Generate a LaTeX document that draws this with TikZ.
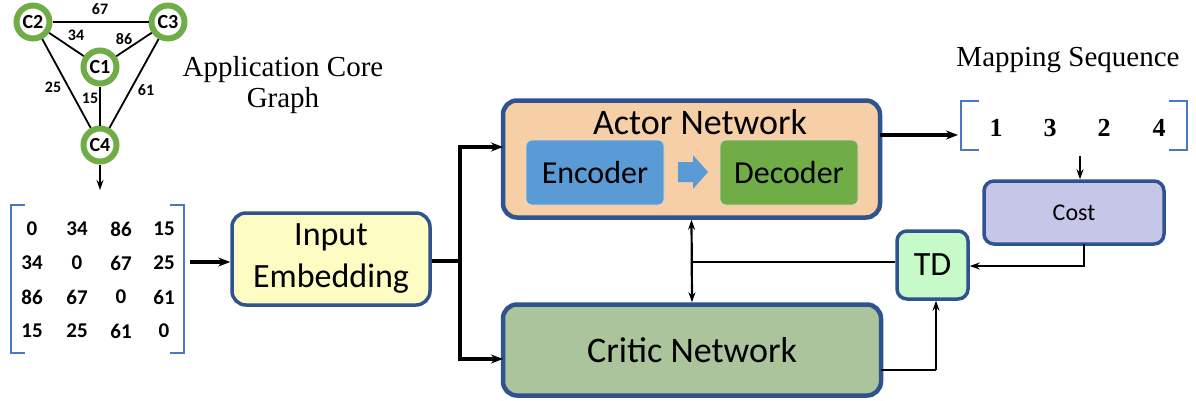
\documentclass[tikz,border=0pt]{standalone}
\usepackage{fontspec}
\setmainfont{Carlito}
\newfontfamily\timesfont{Liberation Serif}
\usetikzlibrary{arrows.meta}

\definecolor{ringgreen}{HTML}{70AD47}
\definecolor{boxblue}{HTML}{2F5290}
\definecolor{brackblue}{HTML}{4A78C8}
\definecolor{inputfill}{HTML}{FDFDC3}
\definecolor{actorfill}{HTML}{F6CFA6}
\definecolor{encfill}{HTML}{5B9BD5}
\definecolor{decfill}{HTML}{70AD47}
\definecolor{criticfill}{HTML}{ABC49C}
\definecolor{costfill}{HTML}{C6C6E8}
\definecolor{tdfill}{HTML}{C6FAC8}

\begin{document}
\begin{tikzpicture}[x=1pt,y=-1pt,
  core/.style={circle, draw=ringgreen, line width=6pt, fill=white,
    minimum size=33pt, inner sep=0pt,
    font=\bfseries\fontsize{20}{21}\selectfont},
  wlabel/.style={font=\bfseries\fontsize{16}{17}\selectfont, inner sep=0pt},
  gedge/.style={line width=1.8pt},
  cell/.style={font=\bfseries\fontsize{21}{23}\selectfont, inner sep=0pt},
  seqnum/.style={font=\timesfont\bfseries\fontsize{26}{28}\selectfont, inner sep=0pt},
  caption/.style={font=\timesfont\fontsize{29}{34}\selectfont, align=center, inner sep=0pt},
  bracket/.style={draw=brackblue, line width=2.6pt},
  block/.style={draw=boxblue, rounded corners=14pt, inner sep=0pt},
  inner/.style={draw=white!85!black, line width=0.8pt, rounded corners=6pt, inner sep=0pt},
  arr/.style={line width=3.2pt, -{Stealth[length=12pt,width=9pt]}},
  thinarr/.style={line width=2.2pt, -{Stealth[length=10pt,width=7pt]}},
  dblarr/.style={line width=2.2pt, {Stealth[length=10pt,width=7pt]}-{Stealth[length=10pt,width=7pt]}},
  plain/.style={line width=2.2pt}
]
\useasboundingbox (0,0) rectangle (1196,400);

% ---------- application core graph ----------
\node[core] (c2) at (33,22) {C2};
\node[core] (c3) at (168,22) {C3};
\node[core] (c1) at (100,67) {C1};
\node[core] (c4) at (100,145) {C4};
\draw[gedge] (c2) -- (c3);
\draw[gedge] (c2) -- (c1);
\draw[gedge] (c3) -- (c1);
\draw[gedge] (c2) -- (c4);
\draw[gedge] (c3) -- (c4);
\draw[gedge] (c1) -- (c4);
\node[wlabel] (w23) at (100,9) {67};
\node[wlabel] (w12) at (76,35) {34};
\node[wlabel] (w13) at (124,39) {86};
\node[wlabel] (w24) at (53,87) {25};
\node[wlabel] (w14) at (90,98) {15};
\node[wlabel] (w34) at (146,90) {61};
\node[caption] (gcap) at (283,85) {Application Core\\[-3pt]Graph};

% ---------- adjacency matrix ----------
\coordinate (matin) at (100,190);
\draw[thinarr] (c4.south) -- (matin);
\draw[bracket] (25,205) -- (11,205) -- (11,353) -- (25,353);
\draw[bracket] (170,205) -- (184,205) -- (184,353) -- (170,353);
\foreach \r/\y in {0/229,1/263,2/297,3/331}{
  \foreach \c/\x in {0/32,1/77,2/121,3/164}{
    \coordinate (m\r\c) at (\x,\y);
  }
}
\node[cell] (a00) at (m00) {0};  \node[cell] (a01) at (m01) {34}; \node[cell] (a02) at (m02) {86}; \node[cell] (a03) at (m03) {15};
\node[cell] (a10) at (m10) {34}; \node[cell] (a11) at (m11) {0};  \node[cell] (a12) at (m12) {67}; \node[cell] (a13) at (m13) {25};
\node[cell] (a20) at (m20) {86}; \node[cell] (a21) at (m21) {67}; \node[cell] (a22) at (m22) {0};  \node[cell] (a23) at (m23) {61};
\node[cell] (a30) at (m30) {15}; \node[cell] (a31) at (m31) {25}; \node[cell] (a32) at (m32) {61}; \node[cell] (a33) at (m33) {0};
\coordinate (matout) at (190,262);

% ---------- input embedding ----------
\node[block, line width=3.5pt, fill=inputfill, minimum width=198pt, minimum height=92pt,
  align=center, font=\fontsize{34}{42}\selectfont] (emb) at (331,259) {Input\\Embedding};
\draw[arr] (matout) -- (emb.west |- matout);

% ---------- actor network ----------
\node[block, line width=4.5pt, fill=actorfill, minimum width=377pt, minimum height=117pt] (actor) at (691.5,159) {};
\node[font=\fontsize{36}{40}\selectfont, inner sep=0pt] (actorlbl) at (700,122) {Actor Network};
\node[inner, fill=encfill, minimum width=138pt, minimum height=65pt,
  font=\fontsize{32}{36}\selectfont] (enc) at (595,172.5) {Encoder};
\node[inner, fill=decfill, minimum width=138pt, minimum height=65pt,
  font=\fontsize{32}{36}\selectfont] (dec) at (789,172.5) {Decoder};
\fill[encfill] (678,162) -- (693,162) -- (693,155) -- (708,172) -- (693,189) -- (693,182) -- (678,182) -- cycle;

% ---------- critic network ----------
\node[block, line width=4.5pt, fill=criticfill, minimum width=378pt, minimum height=91pt,
  font=\fontsize{36}{40}\selectfont] (critic) at (692,350) {Critic Network};

% ---------- embedding splits to actor and critic ----------
\coordinate (split) at (460,261);
\coordinate (actorin) at (503,147);
\coordinate (criticin) at (503,359);
\draw[line width=3.2pt] (emb.east |- split) -- (split);
\draw[arr] (split) |- (actorin);
\draw[arr] (split) |- (criticin);

% ---------- mapping sequence ----------
\node[caption] (seqcap) at (1068,60) {Mapping Sequence};
\draw[bracket] (979,101) -- (961,101) -- (961,150) -- (979,150);
\draw[bracket] (1169,101) -- (1187,101) -- (1187,150) -- (1169,150);
\node[seqnum] (s1) at (996,128) {1};
\node[seqnum] (s2) at (1050,128) {3};
\node[seqnum] (s3) at (1104,128) {2};
\node[seqnum] (s4) at (1159,128) {4};
\coordinate (actorout) at (880,135);
\coordinate (seqin) at (958,135);
\draw[arr] (actorout) -- (seqin);

% ---------- cost and TD ----------
\node[block, line width=3.5pt, rounded corners=10pt, fill=costfill, minimum width=180pt, minimum height=63pt,
  font=\fontsize{24}{26}\selectfont] (cost) at (1074,212.5) {Cost};
\coordinate (seqout) at (1080,156);
\draw[thinarr] (seqout) -- (seqout |- cost.north);
\node[block, line width=3.5pt, rounded corners=10pt, fill=tdfill, minimum width=71pt, minimum height=68pt,
  font=\fontsize{34}{36}\selectfont] (td) at (932.5,265) {TD};
\coordinate (costout) at (1084,244);
\draw[thinarr, line width=2.8pt] (costout) |- (td.east |- 0,266);
\coordinate (tdjoin) at (692,262);
\draw[plain] (td.west |- tdjoin) -- (tdjoin);
\draw[dblarr] (actor.south) -- (critic.north);
\coordinate (criticout) at (881,370);
\coordinate (tdin) at (936,370);
\draw[plain, line width=2.8pt] (criticout) -- (tdin);
\draw[thinarr, line width=2.8pt] (tdin) -- (tdin |- td.south);
\end{tikzpicture}
\end{document}
